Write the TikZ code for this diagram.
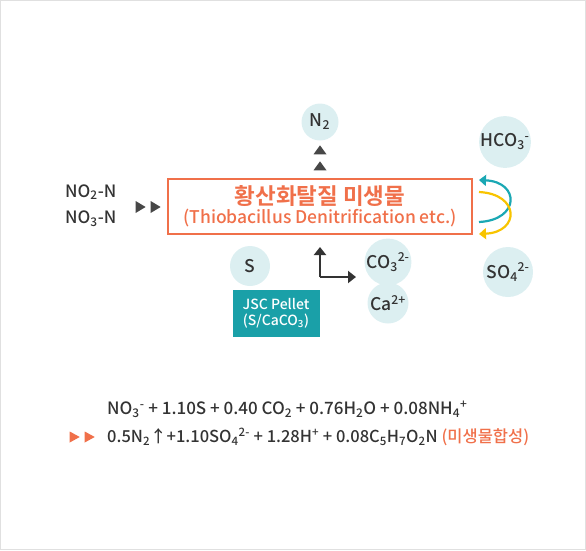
\documentclass[tikz,border=0pt]{standalone}
\usepackage{fontspec}
\setmainfont{Noto Sans CJK KR}[UprightFont=* Medium, BoldFont=* Bold]
\usetikzlibrary{arrows.meta,shapes.geometric,positioning}
\definecolor{orng}{HTML}{F0704A}
\definecolor{pale}{HTML}{DCEFF1}
\definecolor{tealbox}{HTML}{1AA0A8}
\definecolor{tealarr}{HTML}{1AA8B4}
\definecolor{yell}{HTML}{F8C400}
\definecolor{ink}{HTML}{333333}
\newcommand{\dn}[1]{\textsubscript{#1}}
\newcommand{\hi}[1]{\textsuperscript{#1}}
\tikzset{
  ion/.style={circle, fill=pale, minimum size=#1, inner sep=0pt, text=ink, font=\fontsize{17.5}{19}\selectfont},
  ion/.default=38pt,
  tri/.style={isosceles triangle, isosceles triangle stretches, fill=ink!90,
    minimum width=12pt, minimum height=10pt, inner sep=0pt},
  lbl/.style={anchor=west, text=ink, inner sep=0pt, font=\fontsize{17}{20}\selectfont},
}

\begin{document}
\begin{tikzpicture}[x=1pt, y=-1pt, >=Triangle]
\useasboundingbox (0,0) rectangle (586,550);
\draw[black!12] (0.5,0.5) rectangle (585.5,549.5);

% bacteria box
\node[draw=orng, line width=2pt, minimum width=304pt, minimum height=55pt, align=center,
  text=orng, inner sep=0pt] (mic) at (320,206)
  {{\fontsize{22.5}{24}\selectfont\bfseries 황산화탈질 미생물}\\[2pt]
   {\fontsize{17.5}{19}\selectfont (Thiobacillus Denitrification etc.)}};

% inputs
\node[lbl] (no2) at (65,192) {NO\dn{2}-N};
\node[lbl] (no3) at (65,219) {NO\dn{3}-N};
\node[tri] (in1) at (139,207) {};
\node[tri] (in2) at (154,207) {};

% products
\node[ion=37pt] (n2) at (320,122) {N\dn{2}};
\node[tri, shape border rotate=90, minimum width=13pt, minimum height=9pt] (up1) at (320,151) {};
\node[tri, shape border rotate=90, minimum width=13pt, minimum height=9pt] (up2) at (320,167) {};
\node[ion=50pt] (hco) at (505,142) {HCO\dn{3}\hi{-}};
\node[ion=50pt] (so4) at (508,272) {SO\dn{4}\hi{2-}};
\node[ion=41pt] (co3) at (388,262) {CO\dn{3}\hi{2-}};
\node[ion=41pt] (ca) at (388,303) {Ca\hi{2+}};
\node[ion=40pt] (s) at (250,266) {S};
\node[fill=tealbox, text=white, minimum width=87pt, minimum height=47pt, align=center,
  inner sep=0pt, font=\fontsize{14}{16}\selectfont] (jsc) at (276,313)
  {JSC Pellet\\(S/CaCO\dn{3})};

% exchange arrows
\coordinate (t0) at (479,222);
\coordinate (t1) at (479,180);
\coordinate (y0) at (479,192);
\coordinate (y1) at (479,234);
\draw[tealarr, line width=2.2pt, -{Triangle[length=7pt,width=11pt]}]
  (t0) .. controls (520,220) and (520,182) .. (t1);
\draw[yell, line width=2.2pt, -{Triangle[length=7pt,width=11pt]}]
  (y0) .. controls (520,194) and (520,232) .. (y1);

% elbow arrow
\coordinate (elb) at (320,277);
\coordinate (eup) at (320,247);
\coordinate (ert) at (356,277);
\draw[ink, line width=2.4pt, -{Triangle[length=8pt,width=12pt]}] (elb) -- (eup);
\draw[ink, line width=2.4pt, -{Triangle[length=8pt,width=12pt]}] (elb) -- (ert);

% reaction
\node[lbl] (eq1) at (107,409)
  {NO\dn{3}\hi{-} + 1.10S + 0.40 CO\dn{2} + 0.76H\dn{2}O + 0.08NH\dn{4}\hi{+}};
\node[tri, fill=orng, minimum width=11pt] (out1) at (73,437) {};
\node[tri, fill=orng, minimum width=11pt] (out2) at (88,437) {};
\node[lbl, font=\fontsize{16.5}{20}\selectfont] (eq2) at (107,437)
  {0.5N\dn{2}↑+1.10SO\dn{4}\hi{2-} + 1.28H\hi{+} + 0.08C\dn{5}H\dn{7}O\dn{2}N \textcolor{orng}{(미생물합성)}};
\end{tikzpicture}
\end{document}
